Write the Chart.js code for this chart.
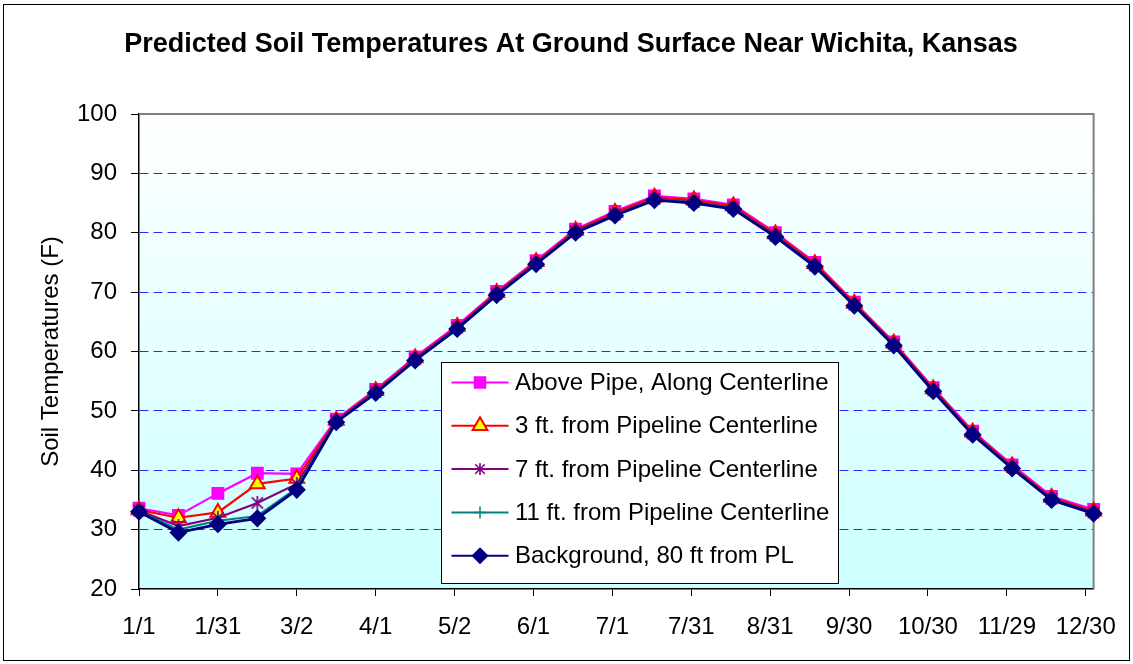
<!DOCTYPE html>
<html><head><meta charset="utf-8">
<script src="https://cdn.jsdelivr.net/npm/chart.js@4/dist/chart.umd.min.js"></script>
<style>html,body{margin:0;padding:0;background:#fff}#wrap{width:1133px;height:664px;position:relative}</style>
</head><body><div id="wrap"><canvas id="c" width="1133" height="664"></canvas></div>
<script>
// ---- data ----
const pointDates = ["1/1","1/16","1/31","2/15","3/2","3/17","4/1","4/16","5/2","5/17","6/1","6/16","7/1","7/16","7/31","8/15","8/31","9/15","9/30","10/15","10/30","11/14","11/29","12/14","12/30"];
const tickDays = [0,30,60,90,120,150,180,210,240,270,300,330,360];
const tickLabels = ["1/1","1/31","3/2","4/1","5/2","6/1","7/1","7/31","8/31","9/30","10/30","11/29","12/30"];
const yTicks = [20,30,40,50,60,70,80,90,100];
const seriesNames = ["Above Pipe, Along Centerline","3 ft. from Pipeline Centerline","7 ft. from Pipeline Centerline","11 ft. from Pipeline Centerline","Background, 80 ft from PL"];
const abovePipe  = [33.6,32.4,36.1,39.5,39.4,48.6,53.6,59.1,64.4,70.1,75.3,80.6,83.6,86.2,85.7,84.7,80.0,75.0,68.3,61.6,53.9,46.6,40.9,35.6,33.4];
const ft3        = [33.3,32.0,32.9,37.7,38.6,48.4,53.4,58.9,64.2,69.9,75.1,80.4,83.4,86.0,85.5,84.5,79.8,74.8,68.1,61.4,53.7,46.4,40.7,35.4,33.1];
const ft7        = [33.2,30.6,32.0,34.5,37.7,48.3,53.2,58.7,64.0,69.7,74.9,80.2,83.1,85.7,85.2,84.2,79.5,74.5,67.9,61.2,53.5,46.2,40.5,35.2,32.9];
const ft11       = [33.1,30.0,31.5,32.3,37.0,48.2,53.1,58.6,63.9,69.6,74.8,80.1,83.0,85.6,85.1,84.1,79.4,74.4,67.8,61.1,53.4,46.1,40.4,35.1,32.8];
const background = [33.0,29.5,30.9,31.9,36.7,48.1,53.0,58.5,63.8,69.5,74.7,80.0,82.9,85.5,85.0,84.0,79.3,74.3,67.7,61.0,53.3,46.0,40.3,35.0,32.7];

// ---- helpers ----
const monthStart = [0,31,59,90,120,151,181,212,243,273,304,334];
function doy(s){ const p = s.split('/').map(Number); return monthStart[p[0]-1] + p[1] - 1; }
function toXY(vals){ return vals.map((v,i)=>({x: doy(pointDates[i]), y: v})); }

const FONT = "'Liberation Sans', Arial, sans-serif";
Chart.defaults.font.family = FONT;
Chart.defaults.color = '#000';

// asterisk (Excel star) marker
function makeStar(color, size, lw){
  const c = document.createElement('canvas');
  c.width = size; c.height = size;
  const g = c.getContext('2d');
  const h = size/2, r = size/2 - 1;
  g.strokeStyle = color; g.lineWidth = lw;
  g.beginPath();
  g.moveTo(h, h-r); g.lineTo(h, h+r);
  g.moveTo(h-r*0.8, h-r*0.8); g.lineTo(h+r*0.8, h+r*0.8);
  g.moveTo(h+r*0.8, h-r*0.8); g.lineTo(h-r*0.8, h+r*0.8);
  g.stroke();
  return c;
}
const starImg = makeStar('#800080', 16, 1.7);
const starImgLegend = makeStar('#800080', 14, 1.6);

const styles = [
  {color:'#ff00ff', fill:'#ff00ff', point:'rect', radius:8, lw:2.2, order:4},
  {color:'#ff0000', fill:'#ffff00', point:'triangle', radius:8.5, lw:2.2, order:3},
  {color:'#800080', fill:'#800080', point:starImg, radius:7, lw:2.2, order:2},
  {color:'#008080', fill:'#008080', point:'cross', radius:6, lw:2.2, order:1},
  {color:'#000080', fill:'#000080', point:'rectRot', radius:8, lw:2.8, order:0}
];
const seriesData = [abovePipe, ft3, ft7, ft11, background];

const datasets = seriesData.map((vals, i) => ({
  label: seriesNames[i],
  data: toXY(vals),
  borderColor: styles[i].color,
  backgroundColor: styles[i].fill,
  borderWidth: styles[i].lw,
  pointStyle: styles[i].point,
  pointRadius: styles[i].radius,
  pointBorderColor: styles[i].color,
  pointBackgroundColor: styles[i].fill,
  pointBorderWidth: i === 1 ? 2 : 1.5,
  tension: 0,
  fill: false,
  clip: false,
  order: styles[i].order
}));

function drawLegendMarker(ctx, i, x, y){
  const s = styles[i];
  ctx.save();
  ctx.fillStyle = s.fill; ctx.strokeStyle = s.color; ctx.lineWidth = i===1 ? 2 : 1.5;
  ctx.beginPath();
  if (i === 0){ const h = 5.5; ctx.rect(x-h, y-h, 2*h, 2*h); ctx.fill(); ctx.stroke(); }
  else if (i === 1){ const r = 8.5; ctx.moveTo(x, y-r); ctx.lineTo(x+r*0.866, y+r*0.5); ctx.lineTo(x-r*0.866, y+r*0.5); ctx.closePath(); ctx.fill(); ctx.stroke(); }
  else if (i === 2){ ctx.drawImage(starImgLegend, x-7, y-7); }
  else if (i === 3){ const r = 6; ctx.moveTo(x, y-r); ctx.lineTo(x, y+r); ctx.moveTo(x-r, y); ctx.lineTo(x+r, y); ctx.stroke(); }
  else { const r = 7.5; ctx.moveTo(x, y-r); ctx.lineTo(x+r, y); ctx.lineTo(x, y+r); ctx.lineTo(x-r, y); ctx.closePath(); ctx.fill(); ctx.stroke(); }
  ctx.restore();
}

const framePlugin = {
  id: 'frame',
  afterLayout(chart){
    // centre the title over the same span as the original (slightly right of canvas centre)
    if (chart.titleBlock){ chart.titleBlock.left = 38; chart.titleBlock.right = 1104; }
  },
  beforeDraw(chart){
    const {ctx, chartArea: a} = chart;
    ctx.save();
    ctx.fillStyle = '#fff';
    ctx.fillRect(0, 0, chart.width, chart.height);
    ctx.strokeStyle = '#000'; ctx.lineWidth = 1;
    ctx.strokeRect(3.5, 4.5, 1126, 656);
    const g = ctx.createLinearGradient(0, a.top, 0, a.bottom);
    g.addColorStop(0, '#ffffff');
    g.addColorStop(1, '#ccffff');
    ctx.fillStyle = g;
    ctx.fillRect(a.left, a.top, a.right - a.left, a.bottom - a.top);
    ctx.restore();
  },
  beforeDatasetsDraw(chart){
    const {ctx, chartArea: a} = chart;
    ctx.save();
    ctx.strokeStyle = '#808080'; ctx.lineWidth = 2;
    ctx.beginPath();
    ctx.moveTo(a.left, a.top); ctx.lineTo(a.right, a.top); ctx.lineTo(a.right, a.bottom);
    ctx.stroke();
    ctx.restore();
  },
  afterDraw(chart){
    const ctx = chart.ctx;
    const bx = 441.5, by = 362.5, bw = 397, bh = 221;
    ctx.save();
    ctx.fillStyle = '#fff'; ctx.strokeStyle = '#000'; ctx.lineWidth = 1;
    ctx.fillRect(bx, by, bw, bh); ctx.strokeRect(bx, by, bw, bh);
    ctx.font = '24px ' + FONT; ctx.textBaseline = 'middle'; ctx.fillStyle = '#000';
    seriesNames.forEach((name, i) => {
      const y = by + 20 + i * 43.3;
      ctx.strokeStyle = styles[i].color; ctx.lineWidth = 2;
      ctx.beginPath(); ctx.moveTo(bx + 10, y); ctx.lineTo(bx + 67, y); ctx.stroke();
      drawLegendMarker(ctx, i, bx + 38.5, y);
      ctx.fillStyle = '#000';
      ctx.fillText(name, bx + 73.5, y + 1);
    });
    ctx.restore();
  }
};

new Chart(document.getElementById('c'), {
  type: 'line',
  data: { datasets },
  options: {
    responsive: false,
    animation: false,
    events: [],
    layout: { padding: { left: 0, right: 29, top: 0, bottom: 0 } },
    plugins: {
      legend: { display: false },
      tooltip: { enabled: false },
      title: {
        display: true,
        text: 'Predicted Soil Temperatures At Ground Surface Near Wichita, Kansas',
        font: { size: 27, weight: 'bold', family: FONT },
        color: '#000',
        padding: { top: 28, bottom: 53.6 }
      }
    },
    scales: {
      x: {
        type: 'linear',
        min: 0, max: 363,
        afterBuildTicks(scale){ scale.ticks = tickDays.map(v => ({ value: v })); },
        afterFit(scale){ scale.height = 75; },
        ticks: {
          autoSkip: false, maxRotation: 0, padding: 17,
          font: { size: 24, family: FONT }, color: '#000',
          callback: (v, i) => tickLabels[i]
        },
        grid: { drawOnChartArea: false, drawTicks: true, tickLength: 7, tickColor: '#000', tickWidth: 1 },
        border: { display: true, color: '#000', width: 1.5 }
      },
      y: {
        min: 20, max: 100,
        afterBuildTicks(scale){ scale.ticks = yTicks.map(v => ({ value: v })); },
        afterFit(scale){ scale.width = 139; },
        ticks: { padding: 14, font: { size: 24, family: FONT }, color: '#000' },
        grid: {
          color: (c) => (c.tick && (c.tick.value === 20 || c.tick.value === 100)) ? 'rgba(0,0,0,0)' : '#2a2aff',
          lineWidth: 1,
          drawTicks: true, tickLength: 8, tickColor: '#000', tickWidth: 1, tickBorderDash: []
        },
        border: { display: true, color: '#000', width: 1.5, dash: [9, 5] },
        title: {
          display: true, text: 'Soil Temperatures (F)',
          font: { size: 24, family: FONT }, color: '#000',
          padding: { top: 37, bottom: 0 }
        }
      }
    }
  },
  plugins: [framePlugin]
});
</script>
</body></html>
